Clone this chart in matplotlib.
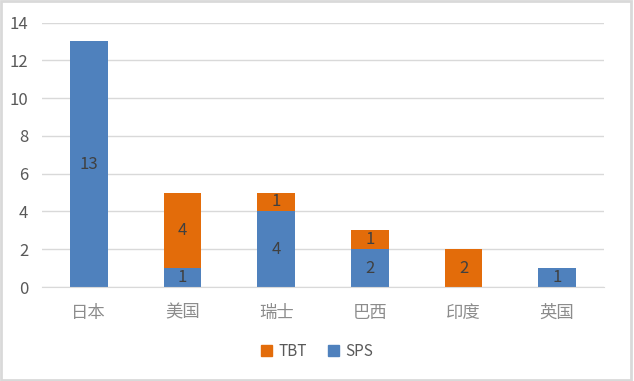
import matplotlib
matplotlib.use("Agg")
import matplotlib.pyplot as plt
import matplotlib.patches as mpatches
import numpy as np

plt.rcParams["font.family"] = ["Noto Sans CJK SC", "DejaVu Sans"]

categories = ["日本", "美国", "瑞士", "巴西", "印度", "英国"]
sps = [13, 1, 4, 2, 0, 1]
tbt = [0, 4, 1, 1, 2, 0]
y_ticks = [0, 2, 4, 6, 8, 10, 12, 14]

BLUE = "#4F81BD"
ORANGE = "#E36C0A"
GRID = "#D9D9D9"
TICK = "#595959"
LABEL = "#404040"

fig = plt.figure(figsize=(6.34, 3.81), dpi=100)
ax = fig.add_axes([42 / 634, 1 - 287 / 381, 562 / 634, (287 - 22.5) / 381])

x = np.arange(len(categories))
w = 0.4
ax.bar(x, sps, width=w, color=BLUE, zorder=2)
ax.bar(x, tbt, width=w, bottom=sps, color=ORANGE, zorder=2)

for i in range(len(categories)):
    if sps[i]:
        ax.text(x[i], sps[i] / 2, str(sps[i]), ha="center", va="center",
                fontsize=12, color=LABEL, zorder=3)
    if tbt[i]:
        ax.text(x[i], sps[i] + tbt[i] / 2, str(tbt[i]), ha="center", va="center",
                fontsize=12, color=LABEL, zorder=3)

ax.set_xlim(-0.5, len(categories) - 0.5)
ax.set_ylim(0, 14)
ax.set_yticks(y_ticks)
ax.yaxis.grid(True, color=GRID, linewidth=1, zorder=0)
ax.set_axisbelow(True)
for s in ["top", "right", "left"]:
    ax.spines[s].set_visible(False)
ax.spines["bottom"].set_color(GRID)
ax.set_xticks(x)
ax.set_xticklabels(categories, fontsize=12.5, color="#8C8C8C")
ax.tick_params(axis="y", length=0, labelsize=12, labelcolor=TICK, pad=10)
ax.tick_params(axis="x", length=0, pad=12)

handles = [mpatches.Patch(color=ORANGE, label="TBT"),
           mpatches.Patch(color=BLUE, label="SPS")]
fig.legend(handles=handles, loc="center", bbox_to_anchor=(0.5, 1 - 351 / 381),
           ncol=2, frameon=False, fontsize=11, labelcolor=TICK,
           handlelength=0.7, handleheight=0.7, handletextpad=0.4, columnspacing=1.4)

fig.add_artist(mpatches.Rectangle((0.002, 0.003), 0.994, 0.994, transform=fig.transFigure,
                                  fill=False, edgecolor=GRID, linewidth=2))

fig.savefig("out.png", dpi=100, facecolor="white")
